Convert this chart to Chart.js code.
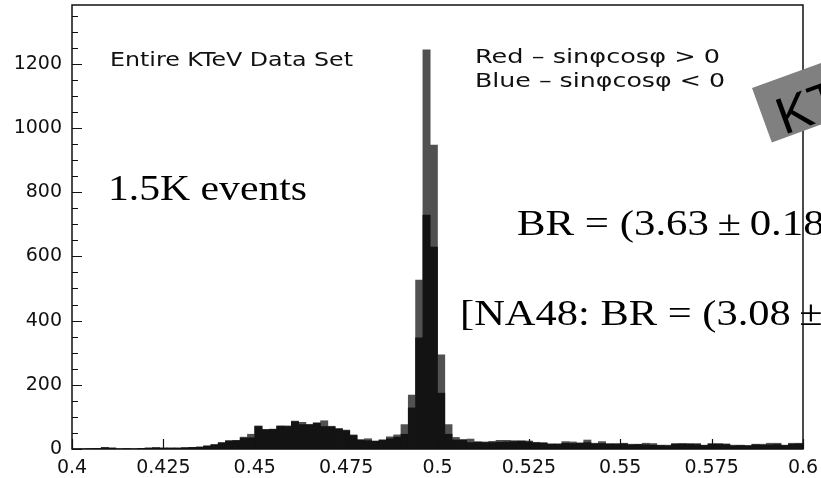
<!DOCTYPE html>
<html>
<head>
<meta charset="utf-8">
<style>
  html, body { margin: 0; padding: 0; background: #fff; }
  #wrap { width: 821px; height: 478px; }
</style>
</head>
<body>
<div id="wrap">
  <canvas id="histo"></canvas>
</div>

<script src="https://cdn.jsdelivr.net/npm/chart.js"></script>
<script>
  // histogram range: 100 bins of 0.002 from 0.4 to 0.6
  const xMin = 0.4;
  const xMax = 0.6;
  const binWidth = 0.002;

  // "Red" sample (drawn dark grey, behind)
  const redCounts = [
    0, 0, 1, 2, 5, 3, 0, 1, 0, 2,
    3, 4, 3, 3, 3, 4, 5, 6, 10, 14,
    20, 26, 27, 37, 46, 72, 61, 62, 72, 72,
    87, 83, 77, 82, 88, 71, 64, 59, 44, 29,
    32, 25, 29, 38, 44, 76, 168, 526, 1243, 947,
    293, 76, 36, 30, 31, 23, 22, 24, 27, 27,
    26, 26, 25, 21, 20, 16, 16, 23, 22, 19,
    28, 18, 23, 17, 17, 18, 15, 15, 18, 17,
    12, 12, 17, 17, 17, 17, 12, 17, 17, 16,
    12, 12, 11, 15, 15, 18, 18, 12, 18, 18
  ];

  // "Blue" sample (drawn black, in front)
  const blueCounts = [
    0, 0, 1, 2, 4, 3, 0, 1, 0, 2,
    3, 4, 3, 3, 3, 4, 5, 6, 9, 13,
    19, 25, 26, 34, 35, 70, 60, 61, 71, 70,
    85, 76, 75, 80, 70, 69, 62, 57, 42, 28,
    26, 24, 27, 32, 37, 46, 128, 346, 729, 629,
    174, 46, 28, 27, 20, 21, 20, 20, 21, 22,
    23, 24, 22, 19, 18, 15, 15, 18, 17, 18,
    20, 16, 17, 15, 15, 16, 13, 14, 13, 12,
    11, 10, 15, 16, 15, 14, 11, 15, 15, 14,
    10, 11, 10, 13, 12, 13, 14, 11, 15, 16
  ];

  const binCenters = redCounts.map((_, i) => xMin + binWidth * (i + 0.5));

  // axis ticks
  const xTickValues = [0.4, 0.425, 0.45, 0.475, 0.5, 0.525, 0.55, 0.575, 0.6];
  const xTickLabels = ['0.4', '0.425', '0.45', '0.475', '0.5', '0.525', '0.55', '0.575', '0.6'];
  const yTickValues = [0, 200, 400, 600, 800, 1000, 1200];
  const yMax = 1383;
  const yMinorStep = 50;

  const tickFont = { family: 'DejaVu Sans', size: 19 };

  // squeeze/stretch text to a target width
  function fitText(ctx, str, x, y, font, width) {
    ctx.save();
    ctx.font = font;
    const w = ctx.measureText(str).width;
    const sx = width ? width / w : 1;
    ctx.translate(x, y);
    ctx.scale(sx, 1);
    ctx.fillText(str, 0, 0);
    ctx.restore();
  }

  function wideText(ctx, str, x, y, font, sx) {
    ctx.save();
    ctx.font = font;
    ctx.translate(x, y);
    ctx.scale(sx, 1);
    ctx.fillText(str, 0, 0);
    ctx.restore();
  }

  const decorations = {
    id: 'decorations',
    afterDatasetsDraw(chart) {
      const ctx = chart.ctx;
      const area = chart.chartArea;
      const xs = chart.scales.x;
      const ys = chart.scales.y;

      ctx.save();
      ctx.fillStyle = '#111';
      ctx.textBaseline = 'alphabetic';
      ctx.textAlign = 'left';
      fitText(ctx, 'Entire KTeV Data Set', 110, 66, '19px "DejaVu Sans"', 243);
      fitText(ctx, 'Red \u2013 sin\u03c6cos\u03c6 > 0', 475, 63, '19px "DejaVu Sans"', 245);
      fitText(ctx, 'Blue \u2013 sin\u03c6cos\u03c6 < 0', 475, 87, '19px "DejaVu Sans"', 250);

      ctx.fillStyle = '#000';
      const serif = '36px "Liberation Serif"';
      fitText(ctx, '1.5K events', 108, 200, serif, 199);
      wideText(ctx, 'BR = (3.63\u2009\u00b1\u20090.18', 517, 235, serif, 1.19);
      wideText(ctx, '[NA48: BR = (3.08\u2009\u00b1', 460, 325, serif, 1.18);

      // frame
      ctx.strokeStyle = '#111';
      ctx.lineWidth = 1.5;
      ctx.strokeRect(area.left, area.top, area.right - area.left, area.bottom - area.top);

      // inward ticks, y axis
      ctx.lineWidth = 1.2;
      ctx.beginPath();
      for (let v = 0; v <= yMax; v += yMinorStep) {
        const py = Math.round(ys.getPixelForValue(v)) + 0.5;
        const len = yTickValues.includes(v) ? 10 : 6;
        ctx.moveTo(area.left, py);
        ctx.lineTo(area.left + len, py);
      }
      // inward ticks, x axis
      xs.ticks.forEach(t => {
        const px = Math.round(xs.getPixelForValue(t.value)) + 0.5;
        ctx.moveTo(px, area.bottom);
        ctx.lineTo(px, area.bottom - 10);
      });
      ctx.stroke();

      // grey tilted label in the corner
      ctx.save();
      ctx.translate(752, 88);
      ctx.rotate(-20 * Math.PI / 180);
      ctx.fillStyle = '#808080';
      ctx.fillRect(0, 0, 130, 58);
      ctx.fillStyle = '#000';
      ctx.font = '52px "Liberation Sans"';
      ctx.fillText('KT', 14, 55);
      ctx.restore();

      ctx.restore();
    }
  };

  const ctx = document.getElementById('histo');

  new Chart(ctx, {
    type: 'bar',
    data: {
      datasets: [{
        label: 'Blue - sin\u03c6cos\u03c6 < 0',
        data: binCenters.map((x, i) => ({ x: x, y: blueCounts[i] })),
        backgroundColor: '#131313',
        borderWidth: 0,
        grouped: false,
        barPercentage: 1,
        categoryPercentage: 1
      }, {
        label: 'Red - sin\u03c6cos\u03c6 > 0',
        data: binCenters.map((x, i) => ({ x: x, y: redCounts[i] })),
        backgroundColor: '#515151',
        borderWidth: 0,
        grouped: false,
        barPercentage: 1,
        categoryPercentage: 1
      }]
    },
    options: {
      responsive: true,
      maintainAspectRatio: false,
      animation: false,
      layout: { padding: { top: 5, right: 18, left: 0, bottom: 0 } },
      plugins: {
        legend: { display: false },
        tooltip: { enabled: false }
      },
      scales: {
        x: {
          type: 'linear',
          min: xMin,
          max: xMax,
          offset: false,
          grid: { display: false, drawTicks: false },
          border: { display: false },
          afterBuildTicks(scale) {
            scale.ticks = xTickValues.map(v => ({ value: v }));
          },
          ticks: {
            color: '#111',
            font: tickFont,
            padding: 8,
            maxRotation: 0,
            autoSkip: false,
            callback: (value, index) => xTickLabels[index]
          },
          afterFit(scale) {
            scale.height = 29;
            scale.paddingLeft = 0;
            scale.paddingRight = 0;
          }
        },
        y: {
          min: 0,
          max: yMax,
          grid: { display: false, drawTicks: false },
          border: { display: false },
          afterBuildTicks(scale) {
            scale.ticks = yTickValues.map(v => ({ value: v }));
          },
          ticks: {
            color: '#111',
            font: tickFont,
            padding: 10,
            callback: (value) => String(value)
          },
          afterFit(scale) {
            scale.width = 72;
            scale.paddingTop = 0;
            scale.paddingBottom = 0;
          }
        }
      }
    },
    plugins: [decorations]
  });
</script>
</body>
</html>
